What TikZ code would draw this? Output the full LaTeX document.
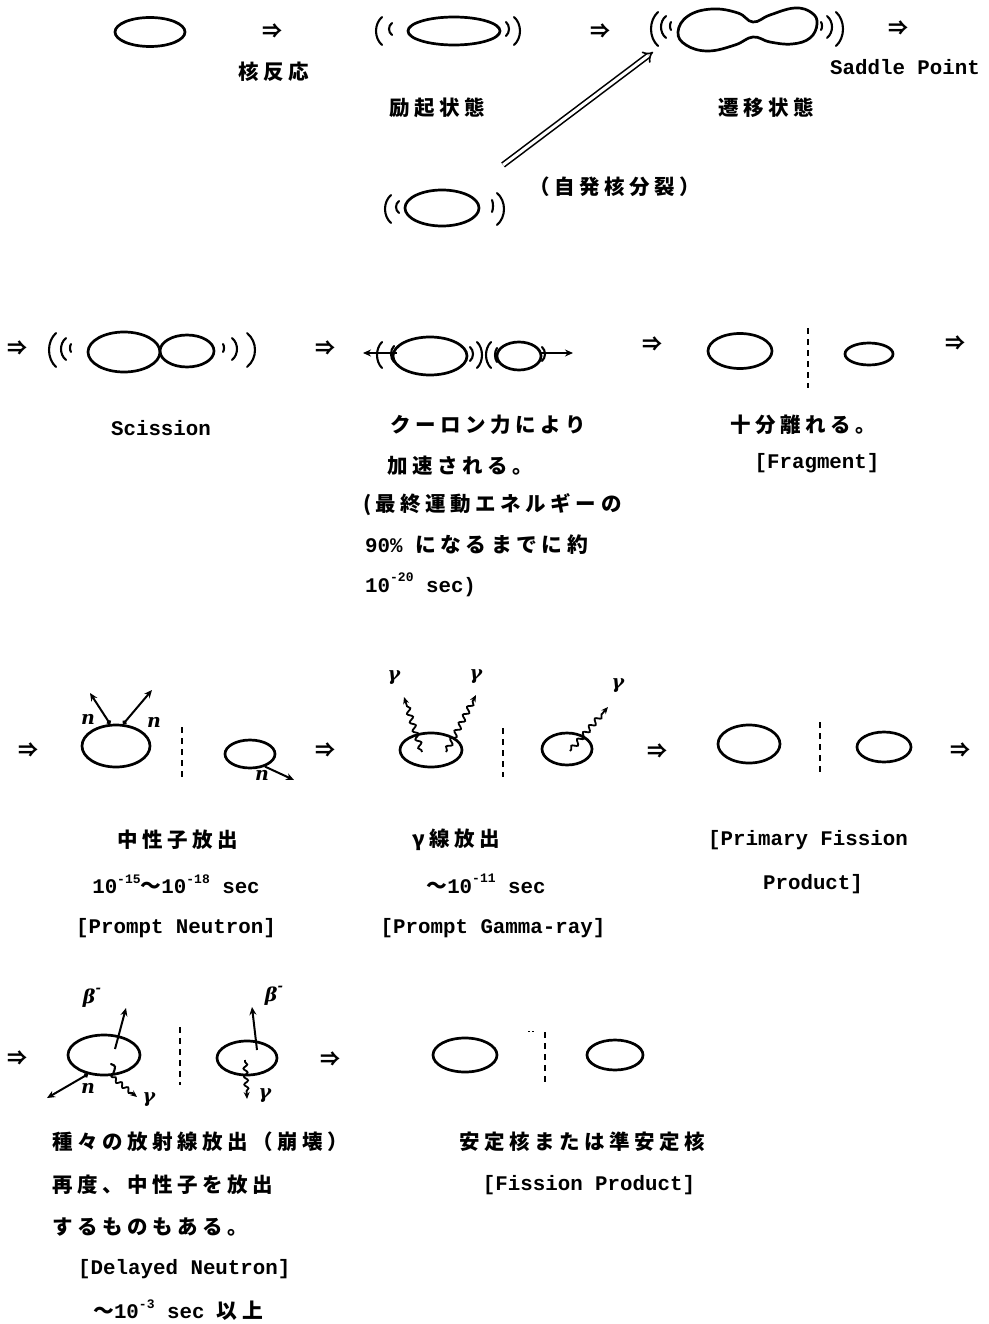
\documentclass[tikz,border=0pt]{standalone}
\usepackage{fontspec}
\usetikzlibrary{arrows.meta,decorations.pathmorphing,shapes.geometric}
\newfontfamily\jpf{Noto Sans CJK JP}[LetterSpace=22]
\newfontfamily\ltf{Liberation Mono}
\newfontfamily\grk{DejaVu Serif}
\newcommand{\J}[1]{{\jpf #1}}
\newcommand{\ex}[1]{\raisebox{0.5em}{\fontsize{13}{13}\selectfont #1}}
\newcommand{\betam}{β\raisebox{0.55em}{\fontsize{13}{13}\selectfont -}}

\tikzset{
  nuc/.style={draw, ellipse, line width=2.7pt, inner sep=0pt},
  jp/.style={font=\jpf\bfseries\fontsize{20.5}{24}\selectfont, inner sep=0pt},
  lt/.style={font=\ltf\bfseries\fontsize{20.8}{24}\selectfont, inner sep=0pt},
  then/.style={font=\jpf\bfseries\fontsize{20}{24}\selectfont, inner sep=0pt},
  glab/.style={font=\grk\bfseries\itshape\fontsize{19}{22}\selectfont, inner sep=0pt},
  vib/.style={line width=2.1pt, line cap=round},
  pdash/.style={line width=2.4pt, dash pattern=on 6pt off 5pt},
  part/.style={line width=2pt, -{Stealth[length=8pt,width=7pt]}},
  dotpart/.style={line width=2pt, {Circle[length=4.5pt]}-{Stealth[length=8pt,width=7pt]}},
  wave/.style={line width=1.8pt, decorate,
    decoration={snake, amplitude=2.5pt, segment length=9pt, pre length=2pt, post length=6pt},
    -{Stealth[length=7pt,width=6pt]}},
  pics/lp/.style args={#1/#2}{code={\draw[vib] (0,-#1) .. controls (-1.33*#2,-0.5*#1) and (-1.33*#2,0.5*#1) .. (0,#1);}},
  pics/rp/.style args={#1/#2}{code={\draw[vib] (0,-#1) .. controls (1.33*#2,-0.5*#1) and (1.33*#2,0.5*#1) .. (0,#1);}},
}

\begin{document}
\begin{tikzpicture}[x=1pt,y=-1pt]
\useasboundingbox (0,0) rectangle (988,1324);
\fill[white] (0,0) rectangle (988,1324);

% ---------- row 1: reaction, excited, saddle point ----------
\node[nuc, minimum width=70pt, minimum height=29pt] (g0) at (150,32) {};
\node[then] (a1) at (272,31) {⇒};
\node[jp] (t1) at (274,72) {核反応};

\node[nuc, minimum width=92pt, minimum height=28pt] (ex) at (454,31) {};
\pic at (382,31) {lp=14/6};
\pic at (392,29) {lp=6/3};
\pic at (506,29) {rp=7/3};
\pic at (514,31) {rp=14/6};
\node[jp] (t2) at (437,108) {励起状態};

\node[then] (a2) at (600,31) {⇒};
\draw[line width=2.7pt] plot[smooth cycle, tension=0.7] coordinates
  {(678,32) (688,16) (712,9) (738,13) (753,22) (770,15) (795,8) (812,13)
   (817,24) (810,38) (792,44) (770,42) (753,37) (735,45) (708,51) (686,45)};
\pic at (658,29) {lp=17/7};
\pic at (666,27) {lp=11/5};
\pic at (671,26) {lp=4/1};
\pic at (821,26) {rp=4/1};
\pic at (827,27) {rp=11/5};
\pic at (836,29) {rp=17/7};
\node[then] (a3) at (898,28) {⇒};
\node[lt] (t4) at (905,67) {Saddle Point};
\node[jp] (t3) at (766,108) {遷移状態};

% spontaneous fission branch
\node[nuc, minimum width=74pt, minimum height=36pt] (sf) at (442,208) {};
\pic at (391,209) {lp=14/6};
\pic at (399,207) {lp=6/3};
\pic at (492,206) {rp=6/1};
\pic at (497,209) {rp=16/7};
\coordinate (sfa) at (503,165);
\coordinate (sfb) at (653,52);
\draw[double, double distance=3pt, line width=1.6pt, -{Implies}] (sfa) -- (sfb);
\node[jp] (t5) at (615,187) {（自発核分裂）};

% ---------- row 2: scission, acceleration, fragments ----------
\node[then] (a4) at (18,348) {⇒};
\node[nuc, minimum width=72pt, minimum height=40pt] (scl) at (124,352) {};
\node[nuc, minimum width=54pt, minimum height=32pt] (scr) at (187,351) {};
\pic at (56,350) {lp=17/7};
\pic at (66,349) {lp=11/5};
\pic at (71,348) {lp=4/1};
\pic at (223,348) {rp=4/1};
\pic at (232,349) {rp=11/5};
\pic at (247,350) {rp=17/8};
\node[lt] (t6) at (161,428) {Scission};

\node[then] (a5) at (325,348) {⇒};
\node[nuc, minimum width=74pt, minimum height=38pt] (cb1) at (430,356) {};
\node[nuc, minimum width=44pt, minimum height=28pt] (cb2) at (519,356) {};
\coordinate (cbl0) at (397,353);
\coordinate (cbl1) at (363,353);
\draw[part] (cbl0) -- (cbl1);
\pic at (382,355) {lp=13/5};
\pic at (394,354) {lp=8/3};
\pic at (470,354) {rp=7/3};
\pic at (477,355) {rp=13/5};
\pic at (491,355) {lp=13/5};
\pic at (497,355) {lp=7/2};
\pic at (542,354) {rp=7/3};
\coordinate (cbr0) at (541,353);
\coordinate (cbr1) at (573,353);
\draw[part] (cbr0) -- (cbr1);
\node[jp] (t7) at (488,425) {クーロン力により};
\node[jp] (t8) at (460,466) {加速される。};
\node[jp, anchor=west] (t9) at (363,505) {(最終運動エネルギーの};
\node[lt, anchor=west] (t10) at (365,545) {90\% \J{になるまでに約}};
\node[lt, anchor=west] (t11) at (365,585) {10\ex{-20} sec)};

\node[then] (a6) at (652,344) {⇒};
\node[nuc, minimum width=64pt, minimum height=35pt] (fr1) at (740,351) {};
\node[nuc, minimum width=48pt, minimum height=22pt] (fr2) at (869,354) {};
\coordinate (frd0) at (808,328);
\coordinate (frd1) at (808,388);
\draw[pdash] (frd0) -- (frd1);
\node[then] (a7) at (955,343) {⇒};
\node[jp] (t12) at (803,425) {十分離れる。};
\node[lt] (t13) at (817,463) {[Fragment]};

% ---------- row 3: prompt neutrons, prompt gammas, primary products ----------
\node[then] (a8) at (28,750) {⇒};
\node[nuc, minimum width=68pt, minimum height=42pt] (pn1) at (116,746) {};
\coordinate (pn1a) at (90,693);
\coordinate (pn1b) at (152,690);
\draw[dotpart] (pn1.105) -- (pn1a);
\draw[dotpart] (pn1.72) -- (pn1b);
\node[glab] (nl1) at (88,719) {n};
\node[glab] (nl2) at (154,722) {n};
\coordinate (pnd0) at (182,727);
\coordinate (pnd1) at (182,778);
\draw[pdash] (pnd0) -- (pnd1);
\node[nuc, minimum width=50pt, minimum height=28pt] (pn2) at (250,754) {};
\coordinate (pn2a) at (294,780);
\draw[part] (pn2.-40) -- (pn2a);
\node[glab] (nl3) at (262,775) {n};

\node[then] (a9) at (325,750) {⇒};
\node[nuc, minimum width=62pt, minimum height=34pt] (pg1) at (431,750) {};
\coordinate (pg1i) at (422,752);
\coordinate (pg1j) at (446,752);
\coordinate (pg1a) at (404,697);
\coordinate (pg1b) at (476,695);
\draw[wave] (pg1i) -- (pg1a);
\draw[wave] (pg1j) -- (pg1b);
\node[glab] (gl1) at (394,678) {γ};
\node[glab] (gl2) at (476,677) {γ};
\coordinate (pgd0) at (503,728);
\coordinate (pgd1) at (503,777);
\draw[pdash] (pgd0) -- (pgd1);
\node[nuc, minimum width=50pt, minimum height=32pt] (pg2) at (567,749) {};
\coordinate (pg2i) at (570,751);
\coordinate (pg2a) at (608,707);
\draw[wave] (pg2i) -- (pg2a);
\node[glab] (gl3) at (618,686) {γ};

\node[then] (a10) at (657,751) {⇒};
\node[nuc, minimum width=62pt, minimum height=38pt] (pf1) at (749,744) {};
\coordinate (pfd0) at (820,722);
\coordinate (pfd1) at (820,775);
\draw[pdash] (pfd0) -- (pfd1);
\node[nuc, minimum width=54pt, minimum height=30pt] (pf2) at (884,747) {};
\node[then] (a11) at (960,750) {⇒};

\node[jp] (t14) at (178,840) {中性子放出};
\node[lt] (t15) at (176,884) {10\ex{-15}\J{〜}10\ex{-18} sec};
\node[lt] (t16) at (176,928) {[Prompt Neutron]};
\node[jp] (t17) at (456,840) {γ線放出};
\node[lt] (t18) at (486,884) {\J{〜}10\ex{-11} sec};
\node[lt] (t19) at (493,928) {[Prompt Gamma-ray]};
\node[lt] (t20) at (808,840) {[Primary Fission};
\node[lt] (t21) at (813,884) {Product]};

% ---------- row 4: delayed decay, stable products ----------
\node[then] (a12) at (18,1058) {⇒};
\node[nuc, minimum width=72pt, minimum height=40pt] (dl1) at (104,1055) {};
\coordinate (dl1b0) at (115,1049);
\coordinate (dl1b1) at (126,1008);
\draw[part] (dl1b0) -- (dl1b1);
\node[glab] (bl1) at (92,998) {\betam};
\coordinate (dl1n) at (47,1098);
\draw[dotpart] (dl1.-130) -- (dl1n);
\node[glab] (nl4) at (88,1088) {n};
\coordinate (dl1h0) at (111,1064);
\coordinate (dl1h1) at (113,1074);
\draw[vib] (dl1h0) .. controls (116,1066) .. (dl1h1);
\coordinate (dl1g) at (137,1097);
\draw[wave, decoration={snake, amplitude=2pt, segment length=8pt, post length=5pt}] (dl1.-72) -- (dl1g);
\node[glab] (gl4) at (149,1100) {γ};
\coordinate (dld0) at (180,1027);
\coordinate (dld1) at (180,1085);
\draw[pdash] (dld0) -- (dld1);
\node[nuc, minimum width=60pt, minimum height=34pt] (dl2) at (247,1058) {};
\coordinate (dl2b0) at (257,1050);
\coordinate (dl2b1) at (252,1007);
\draw[part] (dl2b0) -- (dl2b1);
\node[glab] (bl2) at (274,996) {\betam};
\coordinate (dl2g0) at (245,1060);
\coordinate (dl2g1) at (247,1099);
\draw[wave, decoration={snake, amplitude=2pt, segment length=8pt, post length=5pt}] (dl2g0) -- (dl2g1);
\node[glab] (gl5) at (265,1096) {γ};

\node[then] (a13) at (330,1059) {⇒};
\node[nuc, minimum width=64pt, minimum height=34pt] (st1) at (465,1055) {};
\coordinate (std0) at (545,1032);
\coordinate (std1) at (545,1083);
\draw[pdash] (std0) -- (std1);
\coordinate (stt0) at (528,1031);
\coordinate (stt1) at (535,1031);
\draw[line width=1pt, dash pattern=on 2pt off 2pt] (stt0) -- (stt1);
\node[nuc, minimum width=56pt, minimum height=30pt] (st2) at (615,1055) {};

\node[jp, anchor=west] (t22) at (52,1142) {種々の放射線放出（崩壊）};
\node[jp, anchor=west] (t23) at (52,1185) {再度、中性子を放出};
\node[jp, anchor=west] (t24) at (52,1227) {するものもある。};
\node[lt, anchor=west] (t25) at (78,1269) {[Delayed Neutron]};
\node[lt, anchor=west] (t26) at (93,1310) {\J{〜}10\ex{-3} sec \J{以上}};
\node[jp] (t27) at (582,1142) {安定核または準安定核};
\node[lt] (t28) at (589,1185) {[Fission Product]};
\end{tikzpicture}
\end{document}
